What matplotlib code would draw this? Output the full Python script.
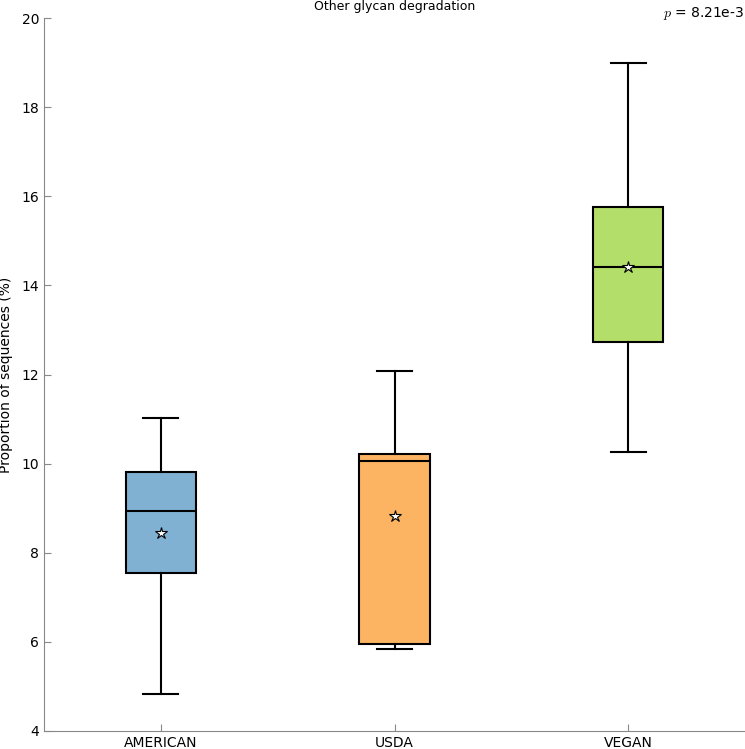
import matplotlib.pyplot as plt

# data
groups = ["AMERICAN", "USDA", "VEGAN"]
colors = ["#80b1d3", "#fdb462", "#b3de69"]
whislo = [4.83, 5.84, 10.26]
q1 = [7.55, 5.95, 12.73]
med = [8.94, 10.06, 14.41]
q3 = [9.81, 10.22, 15.76]
whishi = [11.03, 12.08, 18.99]
means = [8.44, 8.83, 14.41]
p_text = r"$p$ = 8.21e-3"
title = "Other glycan degradation"
ylabel = "Proportion of sequences (%)"

plt.rcParams['mathtext.fontset'] = 'cm'

stats = []
for i, g in enumerate(groups):
    stats.append(dict(label=g, whislo=whislo[i], q1=q1[i], med=med[i],
                      q3=q3[i], whishi=whishi[i], mean=means[i], fliers=[]))

fig = plt.figure(figsize=(7.45, 7.49), dpi=100)
ax = fig.add_axes([44/745, 18/749, 1 - 44/745, 713/749])

bp = ax.bxp(stats, positions=[1, 2, 3], widths=0.3, patch_artist=True,
            showmeans=True,
            boxprops=dict(linewidth=1.5, edgecolor='black'),
            medianprops=dict(color='black', linewidth=1.5),
            whiskerprops=dict(color='black', linewidth=1.5),
            capprops=dict(color='black', linewidth=1.5),
            meanprops=dict(marker='*', markerfacecolor='white',
                           markeredgecolor='black', markersize=9,
                           markeredgewidth=0.8))
for patch, c in zip(bp['boxes'], colors):
    patch.set_facecolor(c)

ax.set_xlim(0.5, 3.5)
ax.set_ylim(4, 20)
ax.set_yticks([4, 6, 8, 10, 12, 14, 16, 18, 20])
ax.spines['top'].set_visible(False)
ax.spines['right'].set_visible(False)
ax.spines['left'].set_color('#888888')
ax.spines['bottom'].set_color('#888888')
ax.tick_params(direction='in', color='#888888', labelsize=10, length=5)
ax.set_ylabel(ylabel, fontsize=10, labelpad=6)
ax.set_title(title, fontsize=9, pad=6)
# p value in the top right corner
ax.text(0.999, 1.0015, p_text, transform=ax.transAxes, ha='right',
        va='baseline', fontsize=10)

fig.savefig("out.png", dpi=100)
